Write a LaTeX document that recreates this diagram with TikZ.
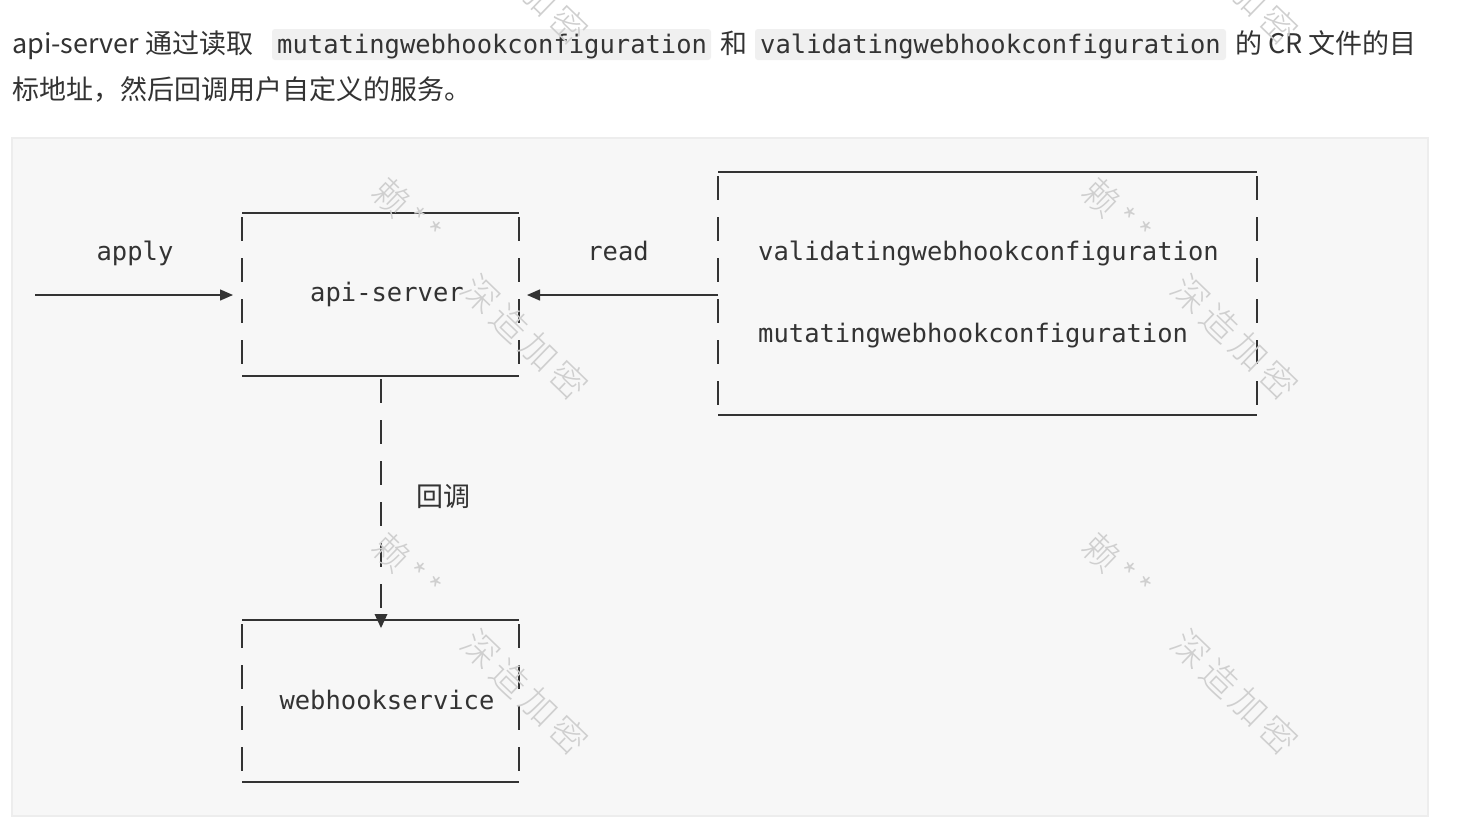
\documentclass[tikz,border=0pt]{standalone}
\usepackage{fontspec}
\usepackage{xcolor}
\usetikzlibrary{arrows.meta}
\newfontfamily\cjk{Noto Sans CJK SC}
\newfontfamily\cjkwide[LetterSpace=14]{Noto Sans CJK SC Light}
\setmonofont{DejaVu Sans Mono}
\definecolor{page}{HTML}{FFFFFF}
\definecolor{codebg}{HTML}{F7F7F7}
\definecolor{codeedge}{HTML}{EDEDED}
\definecolor{inlinebg}{HTML}{F0F0F0}
\definecolor{ink}{HTML}{333333}
\definecolor{wire}{HTML}{333333}
\definecolor{mark}{HTML}{CFCFCF}
\tikzset{
  solid edge/.style={draw=wire, line width=1.6pt},
  pipe edge/.style={draw=wire, line width=1.6pt, dash pattern=on 24pt off 17pt, dash phase=-4pt},
  flow/.style={draw=wire, line width=1.4pt, -{Triangle[length=13pt,width=11pt]}},
  callback/.style={draw=wire, line width=1.6pt, dash pattern=on 24pt off 17pt, dash phase=-3pt},
  tip/.style={fill=wire, draw=none},
  mono/.style={text=ink, font=\ttfamily\fontsize{25.5}{30}\selectfont, inner sep=0pt},
  prose/.style={text=ink, font=\cjk\fontsize{27}{32}\selectfont, inner sep=0pt},
  inlinecode/.style={fill=inlinebg, rounded corners=3pt},
  wmark/.style={text=mark, font=\cjkwide\fontsize{36}{40}\selectfont, rotate=-44, inner sep=0pt},
}
\begin{document}
\begin{tikzpicture}[x=1pt,y=-1pt]
  \useasboundingbox[fill=page] (0,0) rectangle (1459,823);
  % paragraph above the code block
  \fill[inlinecode] (272,29) rectangle (711,60);
  \fill[inlinecode] (755,29) rectangle (1226,60);
  \node[prose, anchor=base west] (introA) at (12,53) {api-server 通过读取};
  \node[mono, anchor=base west] (introM) at (277,53) {mutatingwebhookconfiguration};
  \node[prose, anchor=base west] (introB) at (720,53) {和};
  \node[mono, anchor=base west] (introV) at (760,53) {validatingwebhookconfiguration};
  \node[prose, anchor=base west] (introC) at (1235,53) {的 CR 文件的目};
  \node[prose, anchor=base west] (introD) at (12,99) {标地址，然后回调用户自定义的服务。};
  % code block
  \draw[fill=codebg, draw=codeedge, line width=2pt] (12,138) rectangle (1428,816);
  % api-server box
  \draw[solid edge] (242,213) -- (519,213);
  \draw[solid edge] (242,376) -- (519,376);
  \draw[pipe edge] (242,213) -- (242,376);
  \draw[pipe edge] (519,213) -- (519,376);
  \node[mono, anchor=base] (api) at (387,301) {api-server};
  \coordinate (apiW) at (233,295);
  \coordinate (apiE) at (527,295);
  \coordinate (apiS) at (381,376);
  % configuration box
  \draw[solid edge] (718,172) -- (1257,172);
  \draw[solid edge] (718,415) -- (1257,415);
  \draw[pipe edge] (718,172) -- (718,415);
  \draw[pipe edge] (1257,172) -- (1257,415);
  \node[mono, anchor=base west] (validating) at (758,260) {validatingwebhookconfiguration};
  \node[mono, anchor=base west] (mutating) at (758,342) {mutatingwebhookconfiguration};
  \coordinate (cfgW) at (718,295);
  % webhookservice box
  \draw[solid edge] (242,620) -- (519,620);
  \draw[solid edge] (242,782) -- (519,782);
  \draw[pipe edge] (242,620) -- (242,782);
  \draw[pipe edge] (519,620) -- (519,782);
  \node[mono, anchor=base] (service) at (387,709) {webhookservice};
  \coordinate (svcN) at (381,628);
  % connectors
  \coordinate (client) at (35,295);
  \draw[flow] (client) -- (apiW);
  \node[mono, anchor=base] (apply) at (135,260) {apply};
  \draw[flow] (cfgW) -- (apiE);
  \node[mono, anchor=base] (read) at (618,260) {read};
  \draw[callback] (apiS) -- ++(0,232);
  \fill[tip] (svcN) -- ++(-6.5,-14) -- ++(13,0) -- cycle;
  \node[prose] (hook) at (443,497) {回调};
  % watermarks
  \foreach \dx in {0,710} {
    \node[wmark] at (407+\dx,212) {赖**};
    \node[wmark] at (525+\dx,337) {深造加密};
    \node[wmark] at (407+\dx,567) {赖**};
    \node[wmark] at (525+\dx,692) {深造加密};
    \node[wmark] at (525+\dx,-18) {深造加密};
  }
\end{tikzpicture}
\end{document}
